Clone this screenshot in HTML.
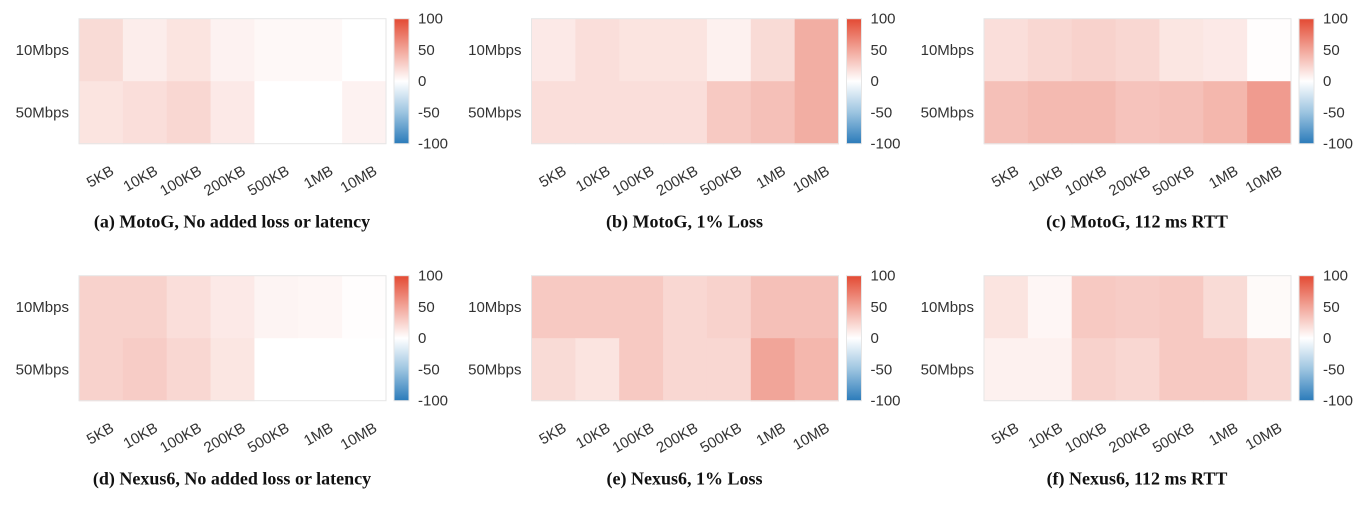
<!DOCTYPE html>
<html><head><meta charset="utf-8"><style>
body{margin:0;width:1370px;height:510px;background:#fff;overflow:hidden}
svg text{font-family:"Liberation Sans",sans-serif;fill:#333}
.cap{font-family:"Liberation Serif",serif;font-weight:bold;font-size:18px;fill:#111}
</style></head><body>
<svg id="c" width="1370" height="510">
<defs><linearGradient id="cb" x1="0" y1="0" x2="0" y2="1">
<stop offset="0" stop-color="#e34a33"/><stop offset="0.25" stop-color="#f2a69a"/><stop offset="0.5" stop-color="#ffffff"/><stop offset="0.75" stop-color="#9cc4e0"/><stop offset="1" stop-color="#2b7bba"/></linearGradient></defs>
</svg>
<script>
const cols=["5KB","10KB","100KB","200KB","500KB","1MB","10MB"];
const rows=["10Mbps","50Mbps"];
const cbTicks=[100,50,0,-50,-100];
const captions=["(a) MotoG, No added loss or latency","(b) MotoG, 1% Loss","(c) MotoG, 112 ms RTT","(d) Nexus6, No added loss or latency","(e) Nexus6, 1% Loss","(f) Nexus6, 112 ms RTT"];
const valsA=[[20,10,15,7,4,4,0],[15,18,22,12,0,0,7]];
const valsB=[[12,18,15,15,8,20,45],[18,18,18,18,30,35,45]];
const valsC=[[18,22,25,22,14,12,1],[35,38,38,33,35,40,55]];
const valsD=[[25,25,18,12,6,5,1],[25,28,22,14,0,0,0]];
const valsE=[[30,30,30,22,25,35,35],[20,15,30,22,22,50,40]];
const valsF=[[15,5,30,28,30,20,3],[8,8,25,22,30,30,22]];
const panels=[valsA,valsB,valsC,valsD,valsE,valsF];
const svg=document.getElementById('c');const NS="http://www.w3.org/2000/svg";
function mk(t,a,p){const e=document.createElementNS(NS,t);for(const k in a)e.setAttribute(k,a[k]);(p||svg).appendChild(e);return e;}
function color(v){const t=Math.min(1,Math.abs(v)/100);const c=v>=0?[227,74,51]:[43,123,186];
return `rgb(${Math.round(255+(c[0]-255)*t)},${Math.round(255+(c[1]-255)*t)},${Math.round(255+(c[2]-255)*t)})`;}
const W=307,H=125;
panels.forEach((vals,p)=>{
 const x0=79+(p%3)*452.5,y0=18.7+Math.floor(p/3)*257;
 const g=mk('g',{});
 
 
 const cw=W/cols.length,ch=H/rows.length;
 const xs=i=>x0+i*cw, ys=j=>y0+j*ch;
 vals.forEach((r,j)=>r.forEach((v,i)=>{
  const c=mk('rect',{x:xs(i),y:ys(j),width:cw+0.5,height:ch+0.5,fill:color(v)},g);
  
  
 }));
 mk('rect',{x:x0,y:y0,width:W,height:H,fill:'none',stroke:'#e6e6e6','stroke-width':1},g);
 rows.forEach((r,j)=>{const t=mk('text',{x:x0-10,y:ys(j)+ch/2+5,'text-anchor':'end','font-size':15},g);t.textContent=r;
  });
 cols.forEach((c,i)=>{const cx=xs(i)+cw/2,cy=y0+H+30;
  const t=mk('text',{x:cx+14,y:cy,'text-anchor':'end','font-size':15,transform:`rotate(-30 ${cx+14} ${cy})`},g);t.textContent=c;
  });
 const bx=x0+W+8;
 const cb=mk('rect',{x:bx,y:y0,width:15,height:H,fill:'url(#cb)',stroke:'#e6e6e6'},g);
 
 cbTicks.forEach(v=>{const t=mk('text',{x:bx+24,y:y0+(100-v)/200*H+5,'font-size':15},g);t.textContent=v;
  });
 const cap=mk('text',{x:x0+153,y:y0+209,'text-anchor':'middle',class:'cap'},g);cap.textContent=captions[p];
 
});
</script>
</body></html>
